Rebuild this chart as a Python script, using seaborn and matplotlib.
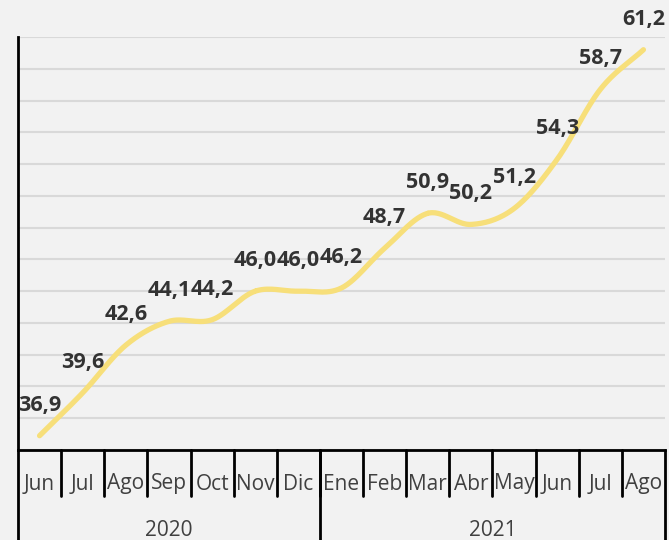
import numpy as np
import matplotlib
matplotlib.use("Agg")
import matplotlib.pyplot as plt
import seaborn as sns

# data
months = ["Jun", "Jul", "Ago", "Sep", "Oct", "Nov", "Dic",
          "Ene", "Feb", "Mar", "Abr", "May", "Jun", "Jul", "Ago"]
years = ["2020", "2021"]
year_sizes = [7, 8]
values = [36.9, 39.6, 42.6, 44.1, 44.2, 46.0, 46.0,
          46.2, 48.7, 50.9, 50.2, 51.2, 54.3, 58.7, 61.2]

sns.set_theme(style="white")
plt.rcParams["font.family"] = ["Open Sans", "DejaVu Sans"]

text_color = "#404040"
line_color = "#F7DF7A"


def smooth(x, y, n=30):
    # Catmull-Rom spline through the points (like a spreadsheet "smoothed line")
    x = np.asarray(x, float)
    y = np.asarray(y, float)
    px = np.concatenate([[2 * x[0] - x[1]], x, [2 * x[-1] - x[-2]]])
    py = np.concatenate([[2 * y[0] - y[1]], y, [2 * y[-1] - y[-2]]])
    xs, ys = [], []
    t = np.linspace(0, 1, n)
    for i in range(1, len(px) - 2):
        for p, out in ((px, xs), (py, ys)):
            p0, p1, p2, p3 = p[i - 1], p[i], p[i + 1], p[i + 2]
            out.append(0.5 * ((2 * p1) + (-p0 + p2) * t
                              + (2 * p0 - 5 * p1 + 4 * p2 - p3) * t ** 2
                              + (-p0 + 3 * p1 - 3 * p2 + p3) * t ** 3))
    return np.concatenate(xs), np.concatenate(ys)


x = np.arange(len(values))
xs, ys = smooth(x, values)

fig = plt.figure(figsize=(6.69, 5.40), dpi=100, facecolor="#F2F2F2")
ax = fig.add_axes([18 / 669, 1 - 450 / 540, 647 / 669, 413 / 540])
ax.set_facecolor("#F2F2F2")

sns.lineplot(x=xs, y=ys, ax=ax, color=line_color, linewidth=3.8,
             sort=False, estimator=None)
ax.lines[-1].set_solid_capstyle("round")

for xi, v in zip(x, values):
    ax.annotate(f"{v:.1f}".replace(".", ","), (xi, v), xytext=(0, 22),
                textcoords="offset points", ha="center", va="center",
                fontsize=15.5, fontweight="bold", color="#333333",
                annotation_clip=False)

ax.set_xlim(-0.5, len(values) - 0.5)
ax.set_ylim(36, 62)
ax.set_yticks(np.arange(36, 63, 2))
ax.set_yticklabels([])
ax.tick_params(axis="y", length=0)
ax.grid(axis="y", color="#D9D9D9", linewidth=1.5)
ax.set_axisbelow(True)

for s in ["top", "right"]:
    ax.spines[s].set_visible(False)
for s in ["left", "bottom"]:
    ax.spines[s].set_color("black")
    ax.spines[s].set_linewidth(2)

# month labels
ax.set_xticks(x)
ax.set_xticklabels([])
ax.tick_params(axis="x", length=0)
trans = ax.get_xaxis_transform()
for xi, m in zip(x, months):
    ax.text(xi, -34 / 413, m, transform=trans, ha="center", va="center",
            fontsize=15, color=text_color)

# separators between months
for b in np.arange(0.5, len(values) - 0.5, 1):
    ax.plot([b, b], [0, -46 / 413], transform=trans, color="black",
            linewidth=2, clip_on=False)

# year groups
start = -0.5
ax.plot([start, start], [0, -100 / 413], transform=trans, color="black",
        linewidth=2, clip_on=False)
for yr, n in zip(years, year_sizes):
    end = start + n
    ax.text((start + end) / 2, -80 / 413, yr, transform=trans, ha="center",
            va="center", fontsize=15, color=text_color)
    ax.plot([end, end], [0, -100 / 413], transform=trans, color="black",
            linewidth=2, clip_on=False)
    start = end

fig.savefig("out.png", dpi=100, facecolor=fig.get_facecolor())
